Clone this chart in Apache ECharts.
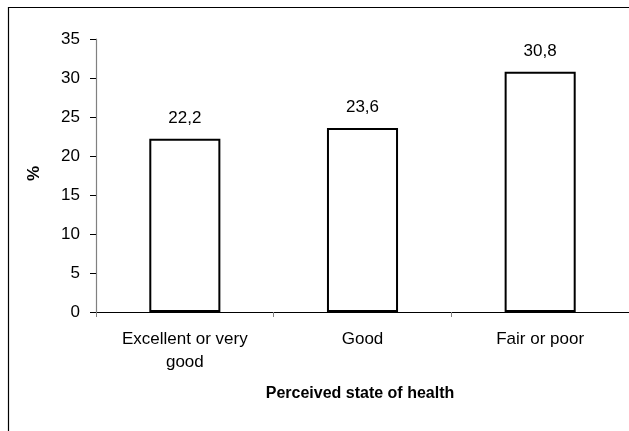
<!DOCTYPE html>
<html>
<head>
<meta charset="utf-8">
<script src="https://cdn.jsdelivr.net/npm/echarts@6/dist/echarts.min.js"></script>
<style>
  html, body { margin: 0; padding: 0; background: #fff; }
  #chart { width: 629px; height: 431px; }
</style>
</head>
<body>
<div id="chart"></div>
<script>
// Share (%) by perceived state of health
const categories = ['Excellent or very\ngood', 'Good', 'Fair or poor'];
const values = [22.2, 23.6, 30.8];
const yTicks = { min: 0, max: 35, interval: 5 };

const font = '"Liberation Sans", Arial, sans-serif';
const chart = echarts.init(document.getElementById('chart'), null, { renderer: 'canvas' });

chart.setOption({
  animation: false,
  backgroundColor: '#fff',
  graphic: [{
    // outer frame (runs past the right and bottom edges)
    type: 'rect',
    shape: { x: 8.5, y: 7.5, width: 700, height: 500 },
    style: { fill: 'none', stroke: '#000', lineWidth: 1.2 },
    silent: true,
    z: -10
  }, {
    type: 'text',
    x: 26,
    y: 181,
    rotation: Math.PI / 2,
    style: { text: '%', font: 'bold 17px ' + font, fill: '#000' }
  }, {
    type: 'text',
    x: 360,
    y: 394,
    style: { text: 'Perceived state of health', font: 'bold 16px ' + font, fill: '#000',
             align: 'center', verticalAlign: 'middle' }
  }],
  grid: { left: 96, top: 39, width: 540, height: 273 },
  xAxis: {
    type: 'category',
    data: categories,
    axisLine: { lineStyle: { color: '#000', width: 1.2 } },
    axisTick: { show: true, length: 5, lineStyle: { color: '#808080' }, alignWithLabel: false },
    axisLabel: { fontFamily: font, fontSize: 17, color: '#000', margin: 16, lineHeight: 23, interval: 0 },
    splitLine: { show: false }
  },
  yAxis: {
    type: 'value',
    min: yTicks.min,
    max: yTicks.max,
    interval: yTicks.interval,
    axisLine: { show: true, lineStyle: { color: '#808080', width: 1.2 } },
    axisTick: { show: true, length: 6, lineStyle: { color: '#000' } },
    axisLabel: { fontFamily: font, fontSize: 17, color: '#000', margin: 16 },
    splitLine: { show: false }
  },
  series: [{
    type: 'bar',
    data: values,
    barWidth: '40%',
    itemStyle: { color: '#fff', borderColor: '#000', borderWidth: 2 },
    label: {
      show: true,
      position: 'top',
      distance: 12,
      fontFamily: font,
      fontSize: 17,
      color: '#000',
      formatter: p => String(p.value).replace('.', ',')
    }
  }]
});
</script>
</body>
</html>
